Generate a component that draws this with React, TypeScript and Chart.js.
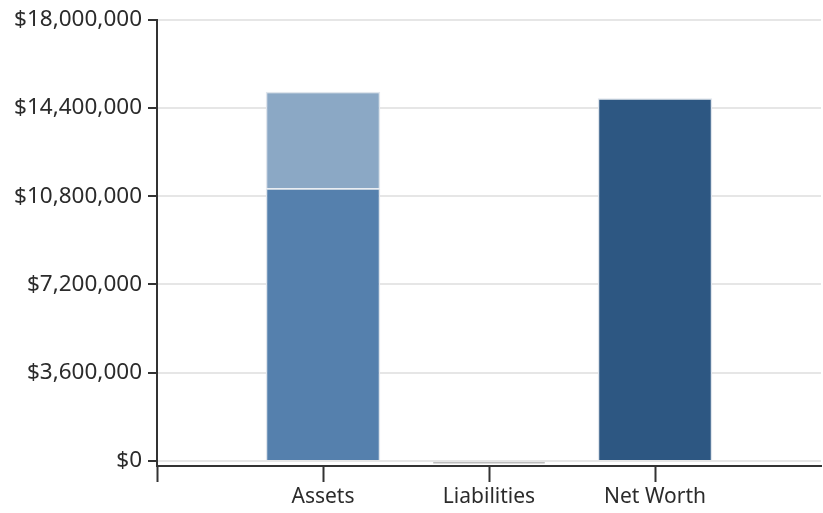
import React, { useEffect, useRef } from "react";
import { Chart, registerables } from "chart.js";

Chart.register(...registerables);

// Empty slots at both ends give the full-category gap on either side.
const categories = ["", "Assets", "Liabilities", "Net Worth", ""];
const baseValues = [null, 11120000, -160000, 14790000, null];
const upperValues = [null, 3930000, null, null, null];
const baseColors = ["transparent", "#5580AD", "#BDBDBD", "#2D5782", "transparent"];
const upperColors = ["transparent", "#8BA8C5", "transparent", "transparent", "transparent"];
const yTicks = [0, 3600000, 7200000, 10800000, 14400000, 18000000];

const X_FONT = { family: "'Noto Sans', sans-serif", size: 21 };
const Y_FONT = { family: "'Noto Sans', sans-serif", size: 22.5 };
const TEXT = "#2b2b2b";
const AXIS = "#333333";

export default function App() {
  const ref = useRef<HTMLCanvasElement | null>(null);

  useEffect(() => {
    if (!ref.current) return;
    const chart = new Chart(ref.current, {
      type: "bar",
      data: {
        labels: categories,
        datasets: [
          {
            label: "Base",
            data: baseValues as any,
            backgroundColor: baseColors,
            borderColor: baseColors.map((c, i) => (i === 1 || i === 3 ? "#dfe5ec" : "transparent")),
            borderWidth: 1.5,
            barPercentage: 0.69,
            categoryPercentage: 1,
          },
          {
            label: "Upper",
            data: upperValues as any,
            backgroundColor: upperColors,
            borderColor: upperColors.map((c, i) => (i === 1 ? "#dfe5ec" : "transparent")),
            borderWidth: 1.5,
            barPercentage: 0.69,
            categoryPercentage: 1,
          },
        ],
      },
      options: {
        animation: false,
        responsive: false,
        maintainAspectRatio: false,
        layout: { padding: { top: 18, right: 0, left: 0, bottom: 0 } },
        plugins: { legend: { display: false }, tooltip: { enabled: false } },
        scales: {
          x: {
            stacked: true,
            offset: false,
            grid: {
              offset: false,
              drawOnChartArea: false,
              drawTicks: true,
              tickLength: 16,
              tickColor: (ctx: any) => (ctx.index === categories.length - 1 ? "transparent" : AXIS),
              tickWidth: 2,
            },
            border: { color: AXIS, width: 2 },
            ticks: { color: TEXT, font: X_FONT, padding: 2, maxRotation: 0, autoSkip: false },
            afterFit: (s: any) => {
              s.height = 47;
            },
          },
          y: {
            stacked: true,
            min: -200000,
            max: 18000000,
            grid: {
              color: "#e6e6e6",
              lineWidth: 2,
              tickColor: AXIS,
              tickLength: 9,
              tickWidth: 2,
            },
            border: { color: AXIS, width: 2 },
            ticks: {
              color: TEXT,
              font: Y_FONT,
              padding: 6,
              callback: (v: any) => "$" + Number(v).toLocaleString("en-US"),
            },
            afterBuildTicks: (s: any) => {
              s.ticks = yTicks.map((v) => ({ value: v }));
            },
            afterFit: (s: any) => {
              s.width = 157;
            },
          },
        },
      },
    });
    return () => chart.destroy();
  }, []);

  return (
    <div style={{ position: "fixed", left: 0, top: 0, width: 823, height: 513, background: "#fff" }}>
      <canvas ref={ref} width={823} height={513} style={{ width: 823, height: 513 }} />
    </div>
  );
}
